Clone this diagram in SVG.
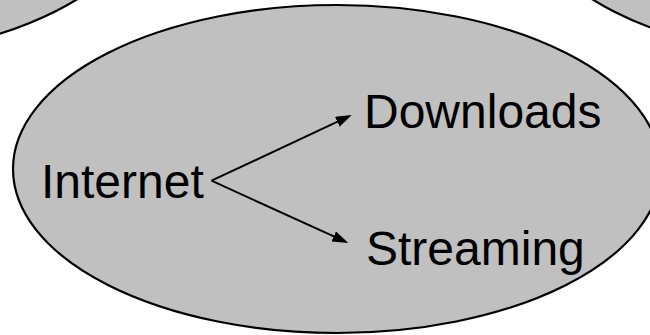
<svg xmlns="http://www.w3.org/2000/svg" width="650" height="335" viewBox="0 0 650 335">
  <style>
    .oval { fill: #c0c0c0; stroke: #000; stroke-width: 2.2; }
    .label { font-family: "Liberation Sans", Arial, sans-serif; font-size: 48px; fill: #000; }
    .edge { stroke: #000; stroke-width: 2; fill: none; marker-end: url(#head); }
  </style>
  <defs>
    <marker id="head" markerUnits="userSpaceOnUse" markerWidth="16" markerHeight="11" refX="8" refY="5.5" orient="auto">
      <path d="M0,0 L16,5.5 L0,11 z" fill="#000"/>
    </marker>
  </defs>

  <!-- neighbouring ovals, mostly off the top edge -->
  <g id="oval-top-left">
    <ellipse class="oval" cx="-173" cy="-105" rx="324" ry="164"/>
  </g>
  <g id="oval-top-right">
    <ellipse class="oval" cx="844" cy="-104" rx="324" ry="164"/>
  </g>

  <!-- main oval -->
  <g id="oval-main">
    <ellipse class="oval" cx="337" cy="169" rx="324" ry="164"/>
  </g>

  <g id="node-internet">
    <text class="label" x="41" y="198">Internet</text>
  </g>
  <g id="node-downloads">
    <text class="label" x="364" y="128">Downloads</text>
  </g>
  <g id="node-streaming">
    <text class="label" x="366" y="265">Streaming</text>
  </g>

  <g id="connectors">
    <line class="edge" x1="211.5" y1="180.7" x2="344.5" y2="118.4"/>
    <line class="edge" x1="211.5" y1="180.7" x2="341" y2="239.7"/>
  </g>
</svg>
